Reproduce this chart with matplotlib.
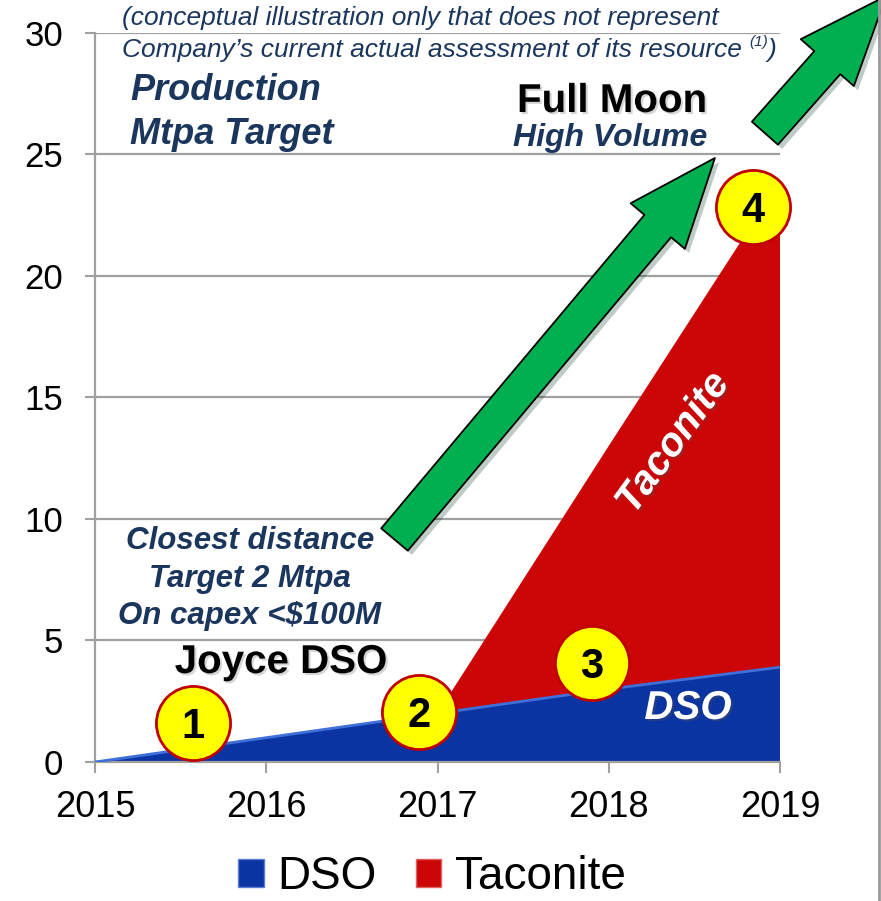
import numpy as np
from matplotlib import pyplot as plt
from matplotlib import patheffects as pe
from matplotlib.patches import Patch
from matplotlib.lines import Line2D
from matplotlib import font_manager

# data
years = [2015, 2016, 2017, 2018, 2019]
dso = [0, 1.0, 2.0, 3.0, 3.9]
taconite = [0, 0, 0, 10, 20]
series_names = ['DSO', 'Taconite']
y_ticks = [0, 5, 10, 15, 20, 25, 30]

# numbered stage markers (year position, Mtpa)
stage_x = [2015.57, 2016.89, 2017.90, 2018.84]
stage_y = [1.6, 2.06, 4.07, 22.82]
stage_lbl = ['1', '2', '3', '4']

blue = '#0B34A3'
red = '#CC0606'
navy = '#1B365D'
green = '#00B050'
grey = '#A0A0A0'

names = {f.name for f in font_manager.fontManager.ttflist}
sans = 'Liberation Sans'
narrow = 'Liberation Sans Narrow' if 'Liberation Sans Narrow' in names else sans
plt.rcParams['font.family'] = [sans, 'DejaVu Sans']

W, H = 881, 901
fig = plt.figure(figsize=(W / 100, H / 100), dpi=100)
ax = fig.add_axes([95 / W, (H - 762) / H, (780 - 95) / W, (762 - 32.5) / H])

ax.stackplot(years, dso, taconite, colors=[blue, red], zorder=2)
ax.plot(years, dso, color='#3F6FD8', lw=2, zorder=3)

ax.set_xlim(2015, 2019)
ax.set_ylim(0, 30)
ax.set_xticks(years)
ax.set_yticks(y_ticks)
ax.set_xticklabels([str(y) for y in years], fontsize=26 if narrow == sans else 29, family=narrow)
ax.set_yticklabels([str(v) for v in y_ticks], fontsize=25)
ax.tick_params(axis='x', direction='out', length=8, width=1.5, color=grey, pad=12)
ax.tick_params(axis='y', direction='out', length=7, width=1.5, color=grey, pad=16)
ax.yaxis.grid(True, color=grey, lw=1.6, zorder=0)
ax.set_axisbelow(True)
for s in ['top', 'right']:
    ax.spines[s].set_visible(False)
for s in ['left', 'bottom']:
    ax.spines[s].set_color(grey)
    ax.spines[s].set_linewidth(1.6)

# green arrows
arrows = [((2016.749, 9.15), (2018.62, 24.84)),
          ((2018.912, 25.86), (2019.62, 31.5))]
for tail, tip in arrows:
    a = ax.annotate('', xy=tip, xytext=tail, annotation_clip=False,
                    arrowprops=dict(arrowstyle='simple,head_length=6.4,head_width=5.1,tail_width=2.5',
                                    mutation_scale=10, fc=green, ec='black', lw=1.3,
                                    shrinkA=0, shrinkB=0, clip_on=False), zorder=5)
    a.arrow_patch.set_path_effects([pe.SimplePatchShadow(offset=(3, -3), alpha=0.25), pe.Normal()])

# numbered circles
ax.scatter(stage_x, stage_y, s=2850, color='#FFFF00', edgecolor='#C00000', lw=2,
           zorder=6, clip_on=False)
for x, y, t in zip(stage_x, stage_y, stage_lbl):
    ax.text(x, y - 0.15, t, ha='center', va='center', fontsize=30, fontweight='bold',
            zorder=7)


def fx(x, y):
    return x / W, 1 - y / H


shadow = [pe.withSimplePatchShadow(offset=(1.5, -1.5), shadow_rgbFace='#888888', alpha=0.35)]

fig.text(*fx(420, 18), '(conceptual illustration only that does not represent',
         ha='center', va='center', fontsize=19, style='italic', color=navy)
t2 = fig.text(*fx(122, 50), 'Company\u2019s current actual assessment of its resource ',
              ha='left', va='center', fontsize=19, style='italic', color=navy)
t3 = fig.add_artist(plt.Annotation('(1)', xy=(1.0, 0.55), xycoords=t2, fontsize=11,
                                   style='italic', color=navy, ha='left', va='bottom'))
fig.add_artist(plt.Annotation(')', xy=(1.0, 0.5), xycoords=(t3, t2), fontsize=19,
                              style='italic', color=navy, ha='left', va='center'))

fig.text(*fx(130, 90), 'Production', ha='left', va='center', fontsize=26,
         fontweight='bold', style='italic', color=navy)
fig.text(*fx(130, 134), 'Mtpa Target', ha='left', va='center', fontsize=26,
         fontweight='bold', style='italic', color=navy)
fig.text(*fx(612, 101), 'Full Moon', ha='center', va='center', fontsize=29,
         fontweight='bold', color='black', path_effects=shadow)
fig.text(*fx(610, 138), 'High Volume', ha='center', va='center', fontsize=23,
         fontweight='bold', style='italic', color=navy)
for yy, s in zip([541, 579, 616], ['Closest distance', 'Target 2 Mtpa', r'On capex <\$100M']):
    fig.text(*fx(250, yy), s, ha='center', va='center', fontsize=22.5,
             fontweight='bold', style='italic', color=navy)
fig.text(*fx(281, 662), 'Joyce DSO', ha='center', va='center', fontsize=29,
         fontweight='bold', color='black', path_effects=shadow)
fig.text(*fx(688, 708), 'DSO', ha='center', va='center', fontsize=29,
         fontweight='bold', style='italic', color='white', zorder=8,
         path_effects=[pe.withSimplePatchShadow(offset=(1.5, -1.5), alpha=0.35)])
fig.text(*fx(673, 443), 'Taconite', ha='center', va='center', fontsize=29,
         fontweight='bold', style='italic', color='white', rotation=54, zorder=8,
         path_effects=[pe.withSimplePatchShadow(offset=(1.5, -1.5), alpha=0.35)])

# legend
handles = [Patch(facecolor=blue, edgecolor='#5A7FD0', lw=1),
           Patch(facecolor=red, edgecolor='#E06060', lw=1)]
fig.legend(handles, series_names, loc='center', bbox_to_anchor=fx(432, 877), ncol=2,
           frameon=False, fontsize=33, handlelength=0.55, handleheight=0.55,
           handletextpad=0.3, columnspacing=0.85)

fig.add_artist(Line2D([879 / W, 879 / W], [0, 1], transform=fig.transFigure,
                      color='#9A9A9A', lw=2))

fig.savefig('out.png', dpi=100)
